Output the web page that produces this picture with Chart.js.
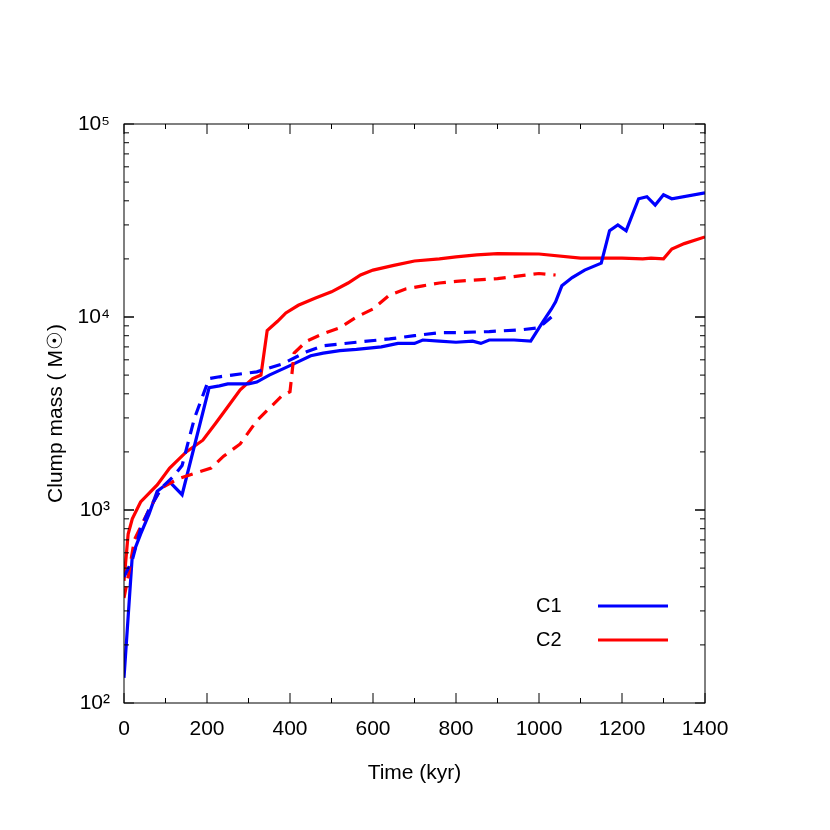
<!DOCTYPE html>
<html lang="en">
<head>
<meta charset="UTF-8">
<title>Clump mass</title>
<script src="https://cdn.jsdelivr.net/npm/chart.js"></script>
<style>
    body { margin: 0; background: #fff; }
    #wrap { width: 830px; height: 830px; }
</style>
</head>
<body>
<div id="wrap"><canvas id="graph"></canvas></div>
<script>
// C1 / C2 mass histories (time kyr, mass Msun); solid = main, dashed = alt run
const c1Time = [0,20,40,60,80,110,140,205,230,250,300,320,350,400,450,480,520,560,620,660,700,720,760,800,840,860,880,940,980,1010,1030,1040,1055,1080,1110,1150,1170,1190,1210,1240,1260,1280,1300,1320,1400];
const c1Mass = [135,580,750,950,1250,1400,1200,4300,4400,4500,4500,4600,5000,5600,6300,6500,6700,6800,7000,7300,7300,7600,7500,7400,7500,7300,7600,7600,7500,9500,11000,12000,14500,16000,17500,19000,28000,30000,28000,41000,42000,38000,43000,41000,44000];
const c1bTime = [0,20,40,60,90,120,140,170,205,230,260,320,380,440,480,560,640,700,760,800,880,960,1000,1030];
const c1bMass = [450,550,800,1000,1300,1500,1700,3000,4800,4900,5000,5200,5700,6600,7100,7400,7700,8000,8300,8300,8400,8600,8800,10000];
const c2Time = [0,10,20,40,80,110,150,190,220,240,280,310,330,345,370,390,420,460,500,540,570,600,650,700,760,800,850,900,1000,1100,1200,1250,1270,1300,1320,1350,1400];
const c2Mass = [430,750,900,1100,1350,1650,2000,2300,2800,3200,4200,4800,5000,8500,9500,10500,11500,12500,13500,15000,16500,17500,18500,19500,20000,20500,21000,21300,21200,20200,20200,20000,20200,20000,22500,24000,26000];
const c2bTime = [0,10,25,60,90,130,170,210,240,280,320,380,400,410,440,480,520,560,600,640,680,720,760,800,900,1000,1040];
const c2bMass = [350,450,700,1000,1300,1450,1550,1650,1900,2200,2900,3900,4100,6500,7500,8200,8800,10000,11000,13000,14000,14500,15000,15300,15800,16800,16500];
const xTicks = [0,200,400,600,800,1000,1200,1400];
const legendNames = ['C1','C2'];
const legendColors = ['#0000ff','#ff0000'];

const pts = (t, m) => t.map((x, i) => ({ x: x, y: m[i] }));
const sup = { 2: '\u00b2', 3: '\u00b3', 4: '\u2074', 5: '\u2075' };
const FONT = '"Liberation Sans", Arial, sans-serif';

function series(t, m, color, dash) {
    return { data: pts(t, m), borderColor: color, borderWidth: 3.2, borderDash: dash,
             pointRadius: 0, fill: false, tension: 0 };
}

// ticks inside the frame on all four sides, plus the legend
const framePlugin = {
    id: 'frame',
    afterDraw(chart) {
        const c = chart.ctx, a = chart.chartArea;
        const xs = chart.scales.x, ys = chart.scales.y;
        c.save();
        c.strokeStyle = '#000';
        c.lineWidth = 1;
        c.strokeRect(a.left, a.top, a.right - a.left, a.bottom - a.top);
        for (let v = 0; v <= 1400; v += 100) {
            const px = xs.getPixelForValue(v), len = v % 200 === 0 ? 10 : 5;
            c.beginPath();
            c.moveTo(px, a.bottom); c.lineTo(px, a.bottom - len);
            c.moveTo(px, a.top); c.lineTo(px, a.top + len);
            c.stroke();
        }
        for (let e = 2; e <= 4; e++) {
            for (let k = 1; k <= 10; k++) {
                const py = ys.getPixelForValue(k * Math.pow(10, e)), len = k === 1 || k === 10 ? 10 : 5;
                c.beginPath();
                c.moveTo(a.left, py); c.lineTo(a.left + len, py);
                c.moveTo(a.right, py); c.lineTo(a.right - len, py);
                c.stroke();
            }
        }
        c.font = '20px ' + FONT;
        c.fillStyle = '#000';
        c.textBaseline = 'middle';
        legendNames.forEach((n, i) => {
            const y = 606 + i * 34;
            c.fillText(n, 536, y);
            c.strokeStyle = legendColors[i];
            c.lineWidth = 3.2;
            c.beginPath(); c.moveTo(598, y); c.lineTo(668, y); c.stroke();
        });
        c.restore();
    }
};

new Chart(document.getElementById('graph'), {
    type: 'line',
    data: {
        datasets: [
            series(c1bTime, c1bMass, '#0000ff', [12, 8]),
            series(c2bTime, c2bMass, '#ff0000', [12, 8]),
            series(c1Time, c1Mass, '#0000ff', []),
            series(c2Time, c2Mass, '#ff0000', [])
        ]
    },
    options: {
        responsive: true,
        maintainAspectRatio: false,
        animation: false,
        layout: { padding: { top: 124, right: 125, left: 40, bottom: 40 } },
        plugins: { legend: { display: false }, tooltip: { enabled: false } },
        scales: {
            x: {
                type: 'linear', min: 0, max: 1400,
                afterBuildTicks: s => { s.ticks = xTicks.map(v => ({ value: v })); },
                afterFit: s => { s.height = 87; },
                grid: { display: false },
                border: { display: false },
                ticks: { color: '#000', font: { size: 21, family: FONT }, padding: 6,
                         callback: v => String(v) },
                title: { display: true, text: 'Time (kyr)', color: '#000',
                         font: { size: 21, family: FONT } }
            },
            y: {
                type: 'logarithmic', min: 100, max: 100000,
                afterBuildTicks: s => { s.ticks = [100, 1000, 10000, 100000].map(v => ({ value: v })); },
                afterFit: s => { s.width = 84; },
                grid: { display: false },
                border: { display: false },
                ticks: { color: '#000', font: { size: 21, family: FONT }, padding: 6,
                         callback: v => '10' + sup[Math.round(Math.log10(v))] },
                title: { display: true, text: 'Clump mass ( M\u2609)', color: '#000',
                         font: { size: 21, family: FONT } }
            }
        }
    },
    plugins: [framePlugin]
});
</script>
</body>
</html>
